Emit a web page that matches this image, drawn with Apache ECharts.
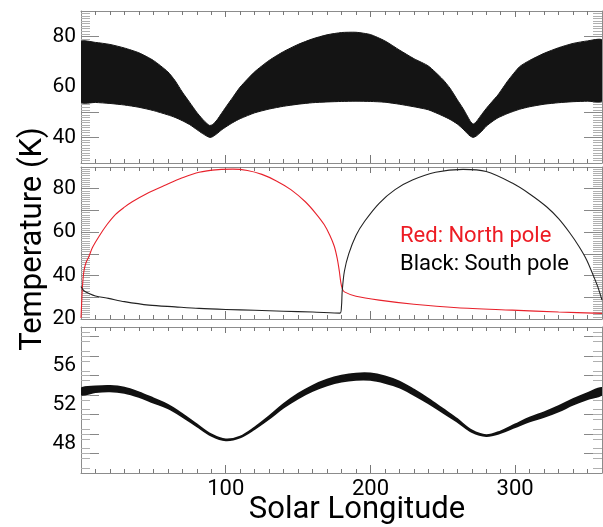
<!DOCTYPE html>
<html><head><meta charset="utf-8">
<script src="https://cdn.jsdelivr.net/npm/echarts@6/dist/echarts.min.js"></script>
<style>html,body{margin:0;padding:0;background:#fff}#c{width:603px;height:527px}</style>
</head><body><div id="c"></div>
<script>
// ---------- DATA ----------
const xTickLabels = [100, 200, 300];
const topYLabels = [40, 60, 80];
const midYLabels = [20, 40, 60, 80];
const botYLabels = [48, 52, 56];

// Top panel: envelope of the dense black band
const topLs = [0,10,20,30,40,50,60,65,70,75,80,84,87,89,91,94,97,100,105,110,120,130,140,150,160,170,180,190,200,210,220,230,240,250,255,260,264,267,269,271,273,276,280,284,288,295,303,310,320,330,340,350,360];
const topHi = [77.9,77.6,76.8,75.4,73.5,70.5,66,62.5,58,54,50,47.3,45.6,44.8,45.2,47,49.5,52,56,60,66,70.5,74,76.8,79,80.6,81.5,81.6,80.7,78.2,74.6,71.2,68.3,63,59.5,55,51.5,48.5,46.5,45.4,46.2,48.5,51.5,54.2,56.8,62.5,68,70.5,73.3,75.5,77.2,78.2,78.5];
const topLo = [54.0,53.9,53.5,52.9,52.0,50.7,49.0,48.0,46.7,45.2,43.2,41.6,40.6,40.1,40.4,41.6,43.0,44.2,46.0,47.5,49.8,51.3,52.4,53.2,53.8,54.1,54.3,54.4,54.3,54.0,53.2,52.2,51.0,48.6,47.2,45.4,43.4,41.6,40.6,40.1,40.6,42.0,44.5,46.3,47.8,49.6,51.2,52.2,53.2,53.8,54.2,54.4,54.5];

// Middle panel: North (red) and South (black) pole
const redLs = [0,0.5,1,2,3.5,5.4,8,12.3,18,23.9,30,35.4,45,58.5,70,81.6,95,105,115,125,135,145,155,162,168,172,175,177,178.5,179.5,180.5,182,190,206,230,260,298,330,360];
const redT  = [20.5,28,35,42,46,48.7,53,57.9,63.5,68.2,71.5,74,77.6,81.7,85,87.6,88.8,89,88.4,86.6,83.6,79.6,74,68.8,63.5,58.5,53.5,48,42,37,34,32.5,30.5,28.7,26.8,25.2,24.1,23.2,22.6];
const blackLs = [0,2,5.4,10,19,30,47,65,81.6,100,120,140,160,179,180,180.5,182,185,190,196,206,217,229,245,264,280,298,310,321.7,330,337.8,344,349.4,354,357,360];
const blackT  = [35,33,31.8,30.6,29.5,28,26.4,25.6,24.9,24.4,24,23.6,23.2,22.7,26,33,42,50,58.5,65,73.3,79.6,84,87.6,88.9,87.9,82.6,77.6,71.7,66.2,59.6,53.5,47.2,40,35,28.7];

// Bottom panel: thin band
const botLs = [0,10,20,30,40,50,60,70,80,90,100,110,120,130,140,150,160,170,180,190,200,210,220,230,240,250,260,270,280,290,300,310,320,330,340,350,360];
const botHi = [53.7,53.9,53.96,53.78,53.3,52.68,52.02,51.08,50.01,48.98,48.46,48.76,49.69,50.84,52.09,53.14,53.98,54.6,55.01,55.23,55.24,54.94,54.41,53.58,52.64,51.6,50.55,49.39,48.91,49.3,50.0,50.7,51.25,51.88,52.6,53.23,53.75];
const botLo = [53.04,53.3,53.38,53.22,52.8,52.22,51.64,50.78,49.79,48.82,48.34,48.64,49.51,50.56,51.71,52.66,53.42,54.0,54.39,54.57,54.56,54.26,53.79,53.02,52.16,51.2,50.25,49.21,48.79,49.1,49.7,50.3,50.75,51.32,52.0,52.57,53.05];

// ---------- LAYOUT ----------
const FONT = 'Roboto';
const grids = [
  {left: 81, right: 1, top: 11, height: 152},
  {left: 81, right: 1, top: 167, height: 152},
  {left: 81, right: 1, top: 327, height: 146}
];
const yRanges = [
  {min: 30, max: 90, major: 10, minor: 1, labels: topYLabels},
  {min: 20, max: 90, major: 10, minor: 1, labels: midYLabels},
  {min: 45, max: 60, major: 2, minor: 0.5, labels: botYLabels}
];
function seq(a, b, step, skipStep) {
  const out = [];
  for (let k = 0; a + k * step <= b + 1e-9; k++) {
    const v = Math.round((a + k * step) * 1000) / 1000;
    if (skipStep && Math.abs(v / skipStep - Math.round(v / skipStep)) < 1e-6) continue;
    out.push(v);
  }
  return out;
}
const AXC = '#8c8c8c';
const xAxes = [], yAxes = [];
const mainX = [], mainY = [];
grids.forEach((g, gi) => {
  const xMaj = xTickLabels;
  const xMin = seq(10, 350, 10, 100);
  const base = {type: 'value', gridIndex: gi, min: 0, max: 360, splitLine: {show: false}};
  mainX.push(xAxes.length);
  xAxes.push(Object.assign({}, base, {position: 'bottom',
    axisLine: {show: true, onZero: false, lineStyle: {color: AXC, width: 1}},
    axisTick: {show: true, inside: true, length: 8, customValues: xMaj, lineStyle: {color: '#777'}},
    axisLabel: {show: gi === 2, customValues: xTickLabels, fontSize: 22, fontFamily: FONT, color: '#000', margin: 5}}));
  xAxes.push(Object.assign({}, base, {position: 'bottom',
    axisLine: {show: false, onZero: false},
    axisTick: {show: true, inside: true, length: 4, customValues: xMin, lineStyle: {color: '#777'}},
    axisLabel: {show: false}}));
  xAxes.push(Object.assign({}, base, {position: 'top',
    axisLine: {show: true, onZero: false, lineStyle: {color: AXC, width: 1}},
    axisTick: {show: true, inside: true, length: 6, customValues: xMaj, lineStyle: {color: '#777'}},
    axisLabel: {show: false}}));
  xAxes.push(Object.assign({}, base, {position: 'top',
    axisLine: {show: false, onZero: false},
    axisTick: {show: true, inside: true, length: 4, customValues: xMin, lineStyle: {color: '#777'}},
    axisLabel: {show: false}}));

  const r = yRanges[gi];
  const yMaj = seq(r.min, r.max, r.major).filter(v => v > r.min && v < r.max);
  const yMin = seq(r.min, r.max, r.minor, r.major).filter(v => v > r.min && v < r.max);
  const ybase = {type: 'value', gridIndex: gi, min: r.min, max: r.max, splitLine: {show: false}};
  ['left', 'right'].forEach(pos => {
    if (pos === 'left') mainY.push(yAxes.length);
    yAxes.push(Object.assign({}, ybase, {position: pos,
      axisLine: {show: true, onZero: false, lineStyle: {color: AXC, width: 1}},
      axisTick: {show: true, inside: true, length: 18, customValues: yMaj, lineStyle: {color: '#888'}},
      axisLabel: {show: pos === 'left', customValues: r.labels, fontSize: 21, fontFamily: FONT, color: '#000', margin: 5}}));
    yAxes.push(Object.assign({}, ybase, {position: pos,
      axisLine: {show: false, onZero: false},
      axisTick: {show: true, inside: true, length: 9, customValues: yMin, lineStyle: {color: '#b0b0b0'}},
      axisLabel: {show: false}}));
  });
});

function band(gi, xs, lo, hi, color, lw, sm) {
  return {
    type: 'custom', xAxisIndex: mainX[gi], yAxisIndex: mainY[gi], clip: true,
    data: xs.map((x, i) => [x, lo[i], hi[i]]),
    encode: {x: 0, y: [1, 2]},
    renderItem: function (params, api) {
      if (params.dataIndex !== 0) return null;
      const pts = [];
      for (let i = 0; i < xs.length; i++) pts.push(api.coord([xs[i], hi[i]]));
      for (let i = xs.length - 1; i >= 0; i--) pts.push(api.coord([xs[i], lo[i]]));
      return {type: 'polygon', shape: {points: pts, smooth: sm}, style: {fill: color, stroke: color, lineWidth: lw, lineJoin: 'round'}};
    }
  };
}

const series = [
  band(0, topLs, topLo, topHi, '#141414', 1, 0.2),
  {type: 'line', xAxisIndex: mainX[1], yAxisIndex: mainY[1], showSymbol: false, symbol: 'none', smooth: 0.3,
   data: redLs.map((x, i) => [x, redT[i]]), lineStyle: {color: '#e8212b', width: 1.1}},
  {type: 'line', xAxisIndex: mainX[1], yAxisIndex: mainY[1], showSymbol: false, symbol: 'none', smooth: 0.3,
   data: blackLs.map((x, i) => [x, blackT[i]]), lineStyle: {color: '#222', width: 1.1}},
  band(2, botLs, botLo, botHi, '#111', 1.6, 0.35)
];

const chart = echarts.init(document.getElementById('c'), null, {renderer: 'canvas'});
chart.setOption({
  animation: false,
  grid: grids,
  xAxis: xAxes,
  yAxis: yAxes,
  series: series,
  graphic: [
    {type: 'text', x: 33, y: 239, rotation: Math.PI / 2,
     style: {text: 'Temperature (K)', font: '31px ' + FONT, fill: '#000', align: 'center', verticalAlign: 'middle'}},
    {type: 'text', x: 357, y: 510,
     style: {text: 'Solar Longitude', font: '31px ' + FONT, fill: '#000', align: 'center', verticalAlign: 'middle'}},
    {type: 'text', x: 400, y: 236,
     style: {text: 'Red: North pole', font: '22px ' + FONT, fill: '#ed1c24', align: 'left', verticalAlign: 'middle'}},
    {type: 'text', x: 400, y: 264,
     style: {text: 'Black: South pole', font: '22px ' + FONT, fill: '#000', align: 'left', verticalAlign: 'middle'}}
  ]
});
</script></body></html>
